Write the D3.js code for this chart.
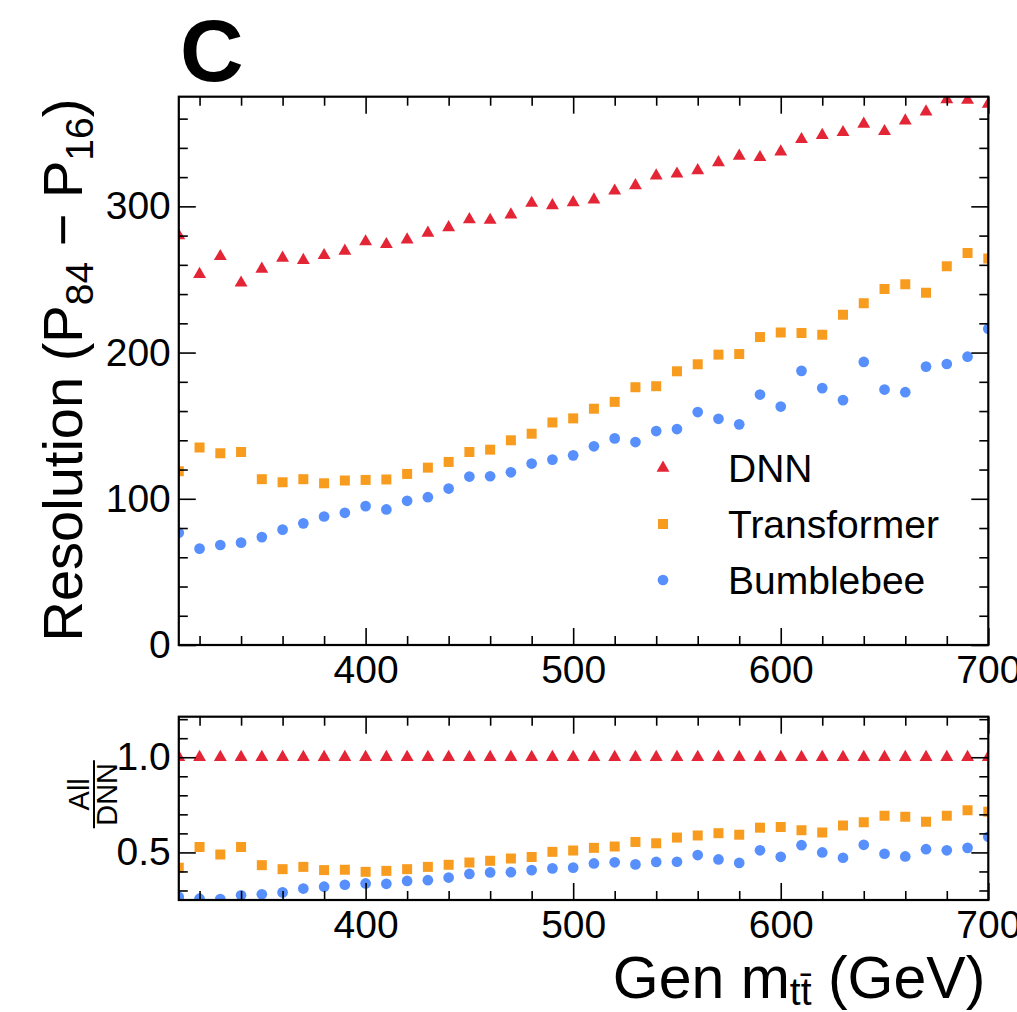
<!DOCTYPE html>
<html>
<head>
<meta charset="utf-8">
<script src="https://cdn.jsdelivr.net/npm/d3@7/dist/d3.min.js"></script>
<style>
  html, body { margin: 0; padding: 0; background: #fff; }
  svg { display: block; }
  text { font-family: "Liberation Sans", Arial, Helvetica, sans-serif; fill: #000; }
</style>
</head>
<body>
<svg id="chart" width="1017" height="1012"></svg>
<script>
// ---------------- data ----------------
const massBins = [310, 320, 330, 340, 350, 360, 370, 380, 390, 400,
                  410, 420, 430, 440, 450, 460, 470, 480, 490, 500,
                  510, 520, 530, 540, 550, 560, 570, 580, 590, 600,
                  610, 620, 630, 640, 650, 660, 670, 680, 690, 700];

const dnnRes = [280, 253.6, 265.8, 247.7, 257.2, 264.7, 263.1, 266.5, 269.5, 275.9,
                274, 277.2, 281.8, 285.6, 291, 290.6, 294.3, 302.2, 300.6, 302.7,
                304.5, 310.6, 314.3, 321, 322.2, 324.5, 330, 334.5, 333.5, 337.4,
                345.8, 348.6, 350.6, 356.3, 351.3, 358.6, 364.7, 373, 372.7, 370];

const transformerRes = [118.8, 135, 131.1, 132, 113.4, 111.3, 113.4, 110.6, 112.5, 112.9,
                        113.2, 117, 121.3, 125.2, 132, 133.6, 140, 144.5, 152.2, 155,
                        161.6, 166.3, 176.3, 177, 187.2, 192, 198.6, 199, 210.6, 213.8,
                        213.4, 212.2, 225.8, 233.8, 243.5, 246.7, 241, 259, 268.1, 264.3];

const bumblebeeRes = [76.8, 65.9, 68.4, 70, 73.8, 78.9, 83.2, 87.9, 90.4, 95,
                      92.7, 98.6, 101.1, 107, 115.2, 115.4, 118.1, 124.1, 126.8, 129.7,
                      135.9, 141.3, 138.8, 146.3, 147.7, 159.3, 154.7, 150.9, 171.3, 163.1,
                      187.5, 175.7, 167.5, 193.6, 174.7, 172.9, 190.4, 192.2, 197.2, 216.3];

const dnnRatio = [1, 1, 1, 1, 1, 1, 1, 1, 1, 1,
                  1, 1, 1, 1, 1, 1, 1, 1, 1, 1,
                  1, 1, 1, 1, 1, 1, 1, 1, 1, 1,
                  1, 1, 1, 1, 1, 1, 1, 1, 1, 1];

const transformerRatio = [0.42, 0.529, 0.489, 0.529, 0.433, 0.412, 0.424, 0.407, 0.409, 0.398,
                          0.403, 0.412, 0.424, 0.435, 0.447, 0.456, 0.468, 0.476, 0.503, 0.51,
                          0.524, 0.531, 0.555, 0.548, 0.578, 0.589, 0.601, 0.593, 0.63, 0.633,
                          0.616, 0.605, 0.642, 0.658, 0.693, 0.688, 0.661, 0.693, 0.721, 0.714];

const bumblebeeRatio = [0.266, 0.257, 0.255, 0.275, 0.28, 0.29, 0.31, 0.32, 0.33, 0.337,
                        0.335, 0.35, 0.354, 0.368, 0.387, 0.395, 0.396, 0.407, 0.416, 0.42,
                        0.442, 0.448, 0.437, 0.45, 0.451, 0.486, 0.463, 0.445, 0.511, 0.477,
                        0.538, 0.5, 0.472, 0.54, 0.493, 0.479, 0.517, 0.511, 0.524, 0.582];

const seriesNames = ["DNN", "Transformer", "Bumblebee"];
const seriesColors = ["#e42536", "#f89c20", "#5790fc"];

const xTicksMajor = [400, 500, 600, 700];
const yTicksMain = [0, 100, 200, 300];
const yTicksRatio = [0.5, 1.0];

// ---------------- layout ----------------
const svg = d3.select("#chart");
const L = 178.8, R = 988.3;
const mainTop = 96.7, mainBot = 645;
const ratTop = 716.7, ratBot = 900;

const x = d3.scaleLinear().domain([310, 700]).range([L, R]);
const yMain = d3.scaleLinear().domain([0, 375]).range([mainBot, mainTop]);
const yRat = d3.scaleLinear().domain([0.25, 1.213]).range([ratBot, ratTop]);

const tickFont = 39;

const defs = svg.append("defs");
defs.append("clipPath").attr("id", "clipMain")
  .append("rect").attr("x", L).attr("y", mainTop).attr("width", R - L).attr("height", mainBot - mainTop);
defs.append("clipPath").attr("id", "clipRat")
  .append("rect").attr("x", L).attr("y", ratTop).attr("width", R - L).attr("height", ratBot - ratTop);

const symbols = [d3.symbolTriangle, d3.symbolSquare, d3.symbolCircle];
const symSizes = [72, 100, 90];

function drawFrame(yScale, top, bot, yMajor, yMinor, yFmt) {
  const g = svg.append("g");
  const xMinor = d3.range(320, 700, 20).filter(v => !xTicksMajor.includes(v));
  const gb = g.append("g").attr("transform", `translate(0,${bot})`)
    .call(d3.axisBottom(x).tickValues(xTicksMajor).tickSize(-17).tickFormat(d3.format("d")).tickPadding(10));
  gb.append("g").call(d3.axisBottom(x).tickValues(xMinor).tickSize(-9).tickFormat(""));
  const gt = g.append("g").attr("transform", `translate(0,${top})`)
    .call(d3.axisTop(x).tickValues(xTicksMajor).tickSize(-17).tickFormat(""));
  gt.append("g").call(d3.axisTop(x).tickValues(xMinor).tickSize(-9).tickFormat(""));
  const gl = g.append("g").attr("transform", `translate(${L},0)`)
    .call(d3.axisLeft(yScale).tickValues(yMajor).tickSize(-17).tickFormat(yFmt).tickPadding(8));
  gl.append("g").call(d3.axisLeft(yScale).tickValues(yMinor).tickSize(-9).tickFormat(""));
  const gr = g.append("g").attr("transform", `translate(${R},0)`)
    .call(d3.axisRight(yScale).tickValues(yMajor).tickSize(-17).tickFormat(""));
  gr.append("g").call(d3.axisRight(yScale).tickValues(yMinor).tickSize(-9).tickFormat(""));

  g.selectAll(".domain").remove();
  g.selectAll(".tick line").attr("stroke", "#000").attr("stroke-width", 1.6);
  g.selectAll(".tick text").attr("font-size", tickFont)
    .attr("font-family", "'Liberation Sans', Arial, sans-serif").attr("fill", "#000");
  g.append("rect").attr("x", L).attr("y", top).attr("width", R - L).attr("height", bot - top)
    .attr("fill", "none").attr("stroke", "#000").attr("stroke-width", 2.2);
  return g;
}

// ---------- main panel ----------
const mainSeries = [dnnRes, transformerRes, bumblebeeRes];
const gMain = svg.append("g").attr("clip-path", "url(#clipMain)");
mainSeries.forEach((vals, i) => {
  gMain.selectAll(null).data(massBins.map((m, k) => [m, vals[k]])).enter()
    .append("path")
    .attr("d", d3.symbol().type(symbols[i]).size(symSizes[i]))
    .attr("transform", d => `translate(${x(d[0])},${yMain(d[1])})`)
    .attr("fill", seriesColors[i]);
});
drawFrame(yMain, mainTop, mainBot, yTicksMain, d3.range(20, 375, 20).filter(v => v % 100 !== 0), d3.format("d"));

// ---------- ratio panel ----------
const ratSeries = [dnnRatio, transformerRatio, bumblebeeRatio];
const gRat = svg.append("g").attr("clip-path", "url(#clipRat)");
ratSeries.forEach((vals, i) => {
  gRat.selectAll(null).data(massBins.map((m, k) => [m, vals[k]])).enter()
    .append("path")
    .attr("d", d3.symbol().type(symbols[i]).size(symSizes[i]))
    .attr("transform", d => `translate(${x(d[0])},${yRat(d[1])})`)
    .attr("fill", seriesColors[i]);
});
drawFrame(yRat, ratTop, ratBot, yTicksRatio, [0.3, 0.4, 0.6, 0.7, 0.8, 0.9, 1.1, 1.2], d3.format(".1f"));

// ---------- legend ----------
const legY = [468, 524, 580];
const leg = svg.append("g");
seriesNames.forEach((name, i) => {
  leg.append("path")
    .attr("d", d3.symbol().type(symbols[i]).size(symSizes[i]))
    .attr("transform", `translate(663,${legY[i]})`)
    .attr("fill", seriesColors[i]);
  leg.append("text").attr("x", 728).attr("y", legY[i] + 14)
    .attr("font-size", 39).text(name);
});

// ---------- labels ----------
svg.append("text").attr("x", 180).attr("y", 81)
  .attr("font-size", 88).attr("font-weight", "bold").text("C");

const yl = svg.append("text")
  .attr("transform", `translate(82,${mainTop + 2}) rotate(-90)`)
  .attr("text-anchor", "end").attr("font-size", 56);
yl.append("tspan").text("Resolution (P");
yl.append("tspan").attr("font-size", 39).attr("dy", 11).text("84");
yl.append("tspan").attr("dy", -11).text(" \u2212 P");
yl.append("tspan").attr("font-size", 39).attr("dy", 11).text("16");
yl.append("tspan").attr("dy", -11).text(")");

// ratio label fraction
const fr = svg.append("g").attr("transform", `translate(94,${(ratTop + ratBot) / 2 - 14}) rotate(-90)`);
fr.append("text").attr("x", 0).attr("y", -5).attr("text-anchor", "middle").attr("font-size", 29).text("All");
fr.append("line").attr("x1", -34).attr("x2", 34).attr("y1", 0).attr("y2", 0).attr("stroke", "#000").attr("stroke-width", 2);
fr.append("text").attr("x", 0).attr("y", 23).attr("text-anchor", "middle").attr("font-size", 29).text("DNN");

// x title
const xl = svg.append("text").attr("x", R - 3).attr("y", 998)
  .attr("text-anchor", "end").attr("font-size", 59);
xl.append("tspan").text("Gen m");
xl.append("tspan").attr("font-size", 39).attr("dy", 7).text("t");
xl.append("tspan").attr("font-size", 39).text("t\u0304");
xl.append("tspan").attr("dy", -7).text(" (GeV)");
</script>
</body>
</html>
